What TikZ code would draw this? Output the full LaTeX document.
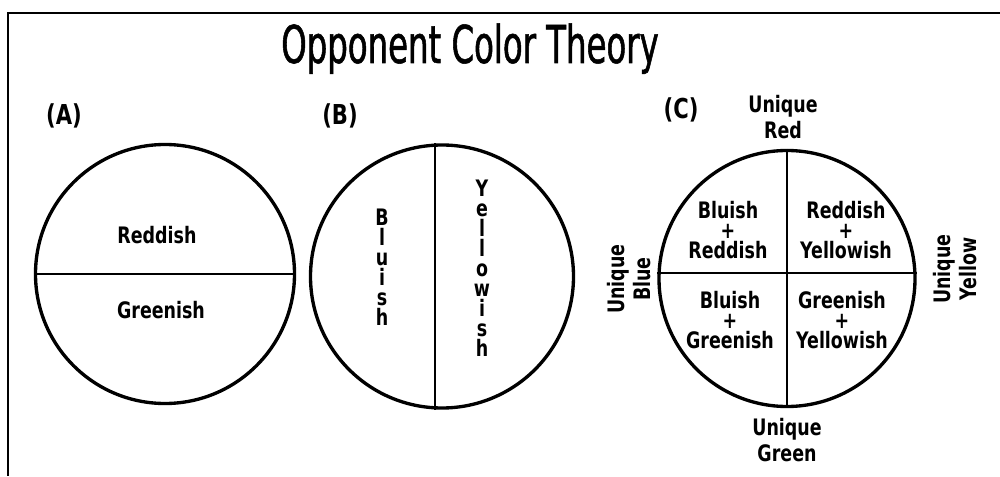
\documentclass[tikz,border=0pt]{standalone}
\usepackage{fontspec}
\setmainfont{DejaVu Sans}[FakeStretch=0.77]
\newfontfamily\titlefont{DejaVu Sans}[FakeStretch=0.62, FakeBold=1]
\usepackage{tikz}

\begin{document}
\begin{tikzpicture}[
  disc/.style={draw, circle, line width=1.9pt, inner sep=0pt},
  split/.style={line width=1.5pt},
  lbl/.style={font=\bfseries\fontsize{12.9}{11.4}\selectfont, align=center, inner sep=0pt},
  uniq/.style={font=\bfseries\fontsize{12.9}{15.3}\selectfont, align=center, inner sep=0pt},
  tag/.style={font=\bfseries\fontsize{15.6}{16}\selectfont, anchor=base, inner sep=0pt}]
  \useasboundingbox (0,0) rectangle (20,9.52);
  \draw[line width=1.1pt] (20,9.26) -- (0.16,9.26) -- (0.16,0);
  \node[font=\titlefont\fontsize{29.7}{30}\selectfont, anchor=base, inner sep=0pt] (title) at (9.40,8.26) {Opponent Color Theory};

  % (A) red / green
  \node[tag] (tagA) at (1.28,7.02) {(A)};
  \node[disc, minimum size=5.18cm] (A) at (3.30,4.04) {};
  \draw[split] (A.west) -- (A.east);
  \node[lbl, anchor=base] (aRed) at (3.14,4.66) {Reddish};
  \node[lbl, anchor=base] (aGreen) at (3.22,3.16) {Greenish};

  % (B) blue / yellow
  \node[tag] (tagB) at (6.80,7.02) {(B)};
  \node[disc, minimum size=5.26cm] (B) at (8.84,3.99) {};
  \draw[split] ([xshift=-0.14cm]B.north) -- ([xshift=-0.14cm]B.south);
  \node[lbl] (bBlue) at (7.64,4.17) {B\\l\\u\\i\\s\\h};
  \node[lbl] (bYellow) at (9.64,4.15) {Y\\e\\l\\l\\o\\w\\i\\s\\h};

  % (C) both axes
  \node[tag] (tagC) at (13.62,7.14) {(C)};
  \node[disc, minimum size=5.12cm] (C) at (15.74,3.95) {};
  \draw[split] (C.north) -- (C.south);
  \draw[split] ([yshift=0.11cm]C.west) -- ([yshift=0.11cm]C.east);
  \node[lbl] (cBR) at (14.56,4.92) {Bluish\\+\\Reddish};
  \node[lbl] (cRY) at (16.92,4.92) {Reddish\\+\\Yellowish};
  \node[lbl] (cBG) at (14.60,3.12) {Bluish\\+\\Greenish};
  \node[lbl] (cGY) at (16.84,3.12) {Greenish\\+\\Yellowish};
  \node[uniq] (uRed) at (15.66,7.18) {Unique\\Red};
  \node[uniq] (uGreen) at (15.74,0.72) {Unique\\Green};
  \node[uniq, rotate=90] (uBlue) at (12.58,3.94) {Unique\\Blue};
  \node[uniq, rotate=90] (uYellow) at (19.10,4.14) {Unique\\Yellow};
\end{tikzpicture}
\end{document}
